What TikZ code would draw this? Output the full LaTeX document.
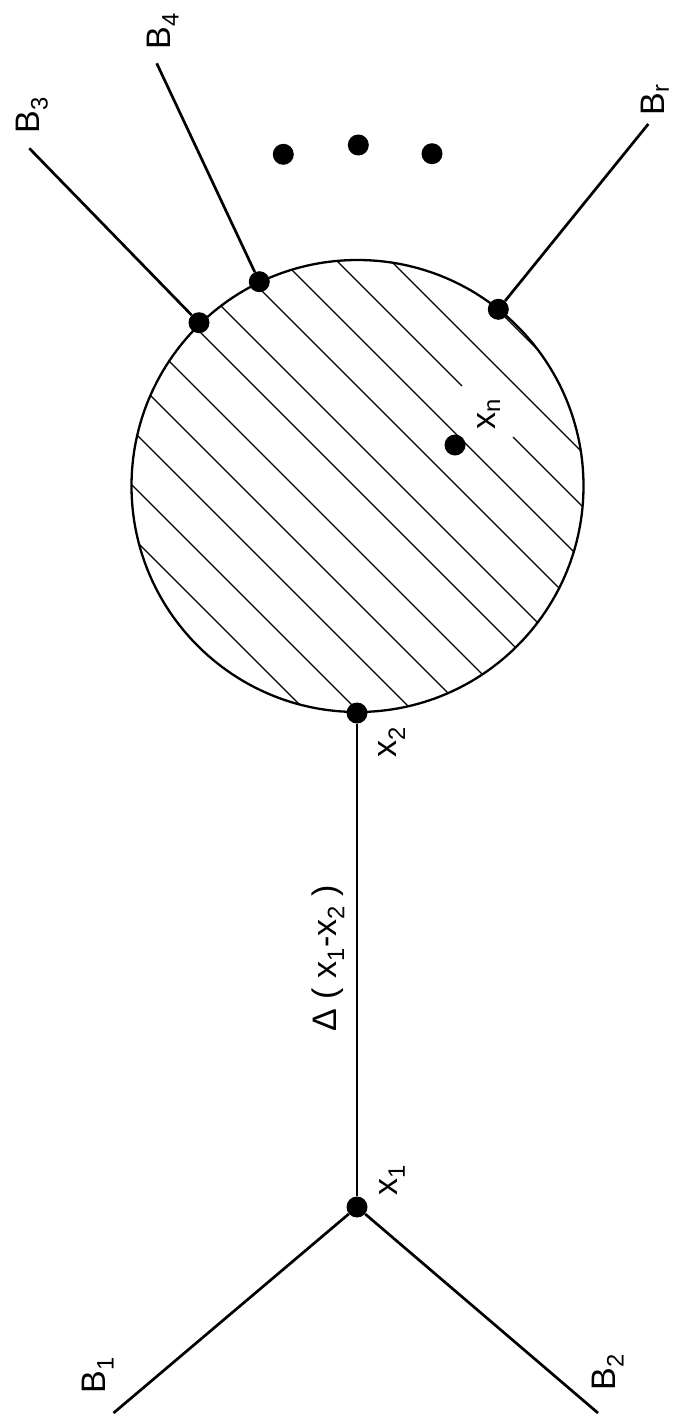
\documentclass[tikz,border=0pt]{standalone}
\usepackage{fontspec}
\setmainfont{Liberation Sans}
\begin{document}
\begin{tikzpicture}[x=1pt,y=-1pt,
  dot/.style={circle,fill=black,inner sep=0pt,minimum size=21pt},
  leg/.style={line width=2.7pt},
  edgeline/.style={line width=2pt},
  rim/.style={line width=2.3pt},
  hatch/.style={line width=1.1pt},
  lab/.style={rotate=90,inner sep=0pt,font=\fontsize{34}{40}\selectfont}]
\useasboundingbox (0,0) rectangle (682,1416);
% hatching inside the blob
\begin{scope}
  \clip (357.5,486) circle (226pt);
  \foreach \c in {-188,-130,-22,29,85,132,192,245,298,353,405}
    \draw[hatch] (80,80+\c) -- (640,640+\c);
  \draw[hatch] (80,4) -- (462,386);
  \draw[hatch] (513,437) -- (640,564);
\end{scope}
\draw[rim] (357.5,486) circle (226pt);
% vertices
\node[dot] (x1) at (357,1207) {};
\node[dot] (x2) at (357,713) {};
\node[dot] (v3) at (199,322.7) {};
\node[dot] (v4) at (259.3,281.7) {};
\node[dot] (vr) at (498.3,309.3) {};
\node[dot] (xn) at (455,445) {};
\node[dot] (d1) at (283.3,154.3) {};
\node[dot] (d2) at (358.3,145) {};
\node[dot] (d3) at (432,153.7) {};
% free ends
\coordinate (e1) at (113.5,1413);
\coordinate (e2) at (598,1413);
\coordinate (e3) at (29.3,148.3);
\coordinate (e4) at (156.7,63.3);
\coordinate (er) at (648.3,124);
% connectors
\draw[edgeline] (x1) -- (x2);
\draw[leg] (x1) -- (e1);
\draw[leg] (x1) -- (e2);
\draw[leg] (v3) -- (e3);
\draw[leg] (v4) -- (e4);
\draw[leg] (vr) -- (er);
% labels
\node[lab] (lB1) at (98,1375) {B\textsubscript{1}};
\node[lab] (lB2) at (608,1372) {B\textsubscript{2}};
\node[lab] (lB3) at (32,115) {B\textsubscript{3}};
\node[lab] (lB4) at (163,31) {B\textsubscript{4}};
\node[lab] (lBr) at (655,100) {B\textsubscript{r}};
\node[lab] (lx1) at (392,1180) {x\textsubscript{1}};
\node[lab] (lx2) at (392,742) {x\textsubscript{2}};
\node[lab] (lxn) at (489,414) {x\textsubscript{n}};
\node[lab] (ldelta) at (328,958) {Δ ( x\textsubscript{1}-x\textsubscript{2} )};
\end{tikzpicture}
\end{document}
